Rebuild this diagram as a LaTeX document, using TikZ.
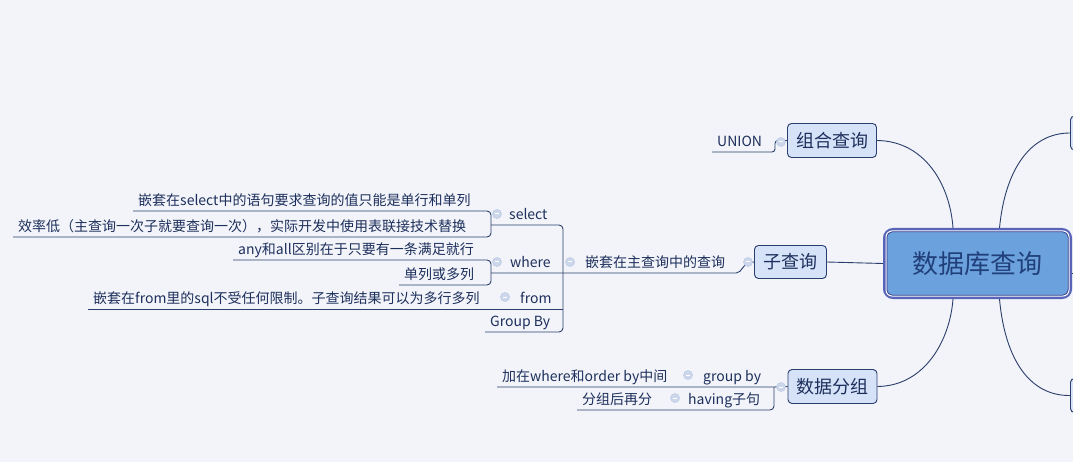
\documentclass[tikz,border=0pt]{standalone}
\usepackage{fontspec}
\setmainfont{Noto Sans CJK SC}
\definecolor{bg}{HTML}{F2F4F9}
\definecolor{ink}{HTML}{1D2F5C}
\definecolor{lnc}{HTML}{2B3E6B}
\definecolor{topicfill}{HTML}{D5E2F8}
\definecolor{topicdraw}{HTML}{2A3E6E}
\definecolor{rootfill}{HTML}{6BA1DD}
\definecolor{rootdraw}{HTML}{5864B8}
\definecolor{roottext}{HTML}{21407A}
\definecolor{cfill}{HTML}{CCD7EC}
\definecolor{cdraw}{HTML}{B9C7E2}
\tikzset{
  leaf/.style={anchor=south west, inner xsep=5pt, inner ysep=5.5pt, text height=10pt, text depth=0pt,
    text=ink, font=\fontsize{14pt}{16pt}\selectfont},
  ln/.style={draw=lnc, line width=0.9pt},
  topic/.style={draw=topicdraw, fill=topicfill, line width=0.9pt, rounded corners=4pt,
    text=ink, font=\fontsize{18pt}{20pt}\selectfont, inner sep=0pt},
  cmark/.style={circle, draw=cdraw, fill=cfill, line width=0.5pt, minimum size=9pt, inner sep=0pt,
    path picture={\draw[white, line width=1pt] ([xshift=-2.3pt]path picture bounding box.center) -- ([xshift=2.3pt]path picture bounding box.center);}},
}
\begin{document}
\begin{tikzpicture}[x=1pt, y=-1pt]
\useasboundingbox (0,0) rectangle (1073,462);
\fill[bg] (0,0) rectangle (1073,462);
\clip (0,0) rectangle (1073,462);

% bracket x positions
\coordinate (selX) at (491,0);
\coordinate (mainX) at (563,0);
\coordinate (gX) at (774,0);
\coordinate (uX) at (775,0);

% topics
\node[draw=rootdraw, fill=rootfill, line width=4pt, rounded corners=8pt, minimum width=185pt, minimum height=67pt,
      text=roottext, font=\fontsize{26pt}{28pt}\selectfont, inner sep=0pt] (root) at (977.5,263.5) {数据库查询};
\draw[white, line width=1pt, rounded corners=6pt] ([shift={(3,3)}]root.north west) rectangle ([shift={(-3,-3)}]root.south east);
\draw[draw=rootdraw!70!black, line width=0.5pt, rounded corners=5pt] ([shift={(4,4)}]root.north west) rectangle ([shift={(-4,-4)}]root.south east);
\node[topic, minimum width=89pt, minimum height=34pt] (zh) at (832,140.5) {组合查询};
\node[topic, minimum width=72pt, minimum height=33pt] (zqbox) at (790.5,262) {子查询};
\node[topic, minimum width=89pt, minimum height=34pt] (fz) at (832.5,386.5) {数据分组};
\node[topic, minimum width=60pt, minimum height=34pt, anchor=west] (rt) at (1070,133) {};
\node[topic, minimum width=60pt, minimum height=34pt, anchor=west] (rb) at (1070,395.5) {};
\coordinate (rightend) at (1080,273);

% leaves
\node[leaf] (union) at (712,152) {UNION};
\node[leaf] (s1) at (133,211) {嵌套在select中的语句要求查询的值只能是单行和单列};
\node[leaf] (s2) at (13,237) {效率低（主查询一次子就要查询一次），实际开发中使用表联接技术替换};
\node[leaf] (sel) at (504,225) {select};
\node[leaf] (w1) at (233,260) {any和all区别在于只要有一条满足就行};
\node[leaf] (w2) at (399,285) {单列或多列};
\node[leaf] (wh) at (505,273) {where};
\node[leaf] (f1) at (88,309) {嵌套在from里的sql不受任何限制。子查询结果可以为多行多列};
\node[leaf] (fr) at (515,309) {from};
\node[leaf] (gb) at (485,332) {Group By};
\node[leaf] (zq) at (580,273) {嵌套在主查询中的查询};
\node[leaf] (g1) at (497,387) {加在where和order by中间};
\node[leaf] (gby) at (698,387) {group by};
\node[leaf] (g2) at (577,410) {分组后再分};
\node[leaf] (hv) at (683,410) {having子句};

% connectors
\draw[ln, rounded corners=3pt] (union.south west) -- (union.south west -| uX) -- (uX |- zh.west) -- (zh.west);
\draw[ln, rounded corners=4pt] (s1.south west) -- (s1.south west -| selX) -- (s2.south west -| selX) -- (s2.south west);
\draw[ln, rounded corners=4pt] (selX |- sel.south) -- (mainX |- sel.south) -- (mainX |- gb.south) -- (gb.south west);
\draw[ln, rounded corners=4pt] (w1.south west) -- (w1.south west -| selX) -- (w2.south west -| selX) -- (w2.south west);
\draw[ln] (selX |- wh.south) -- ([xshift=6pt]zq.south east) .. controls ([xshift=12pt]zq.south east) and (742,262) .. (zqbox.west);
\draw[ln] (f1.south west) -- (mainX |- f1.south);
\draw[ln, rounded corners=4pt] (g2.south west) -- (gX |- g2.south) -- (gX |- g1.south);
\draw[ln] (g1.south west) -- (gX |- g1.south) -- (fz.west);
\draw[ln] (zqbox.east) -- (root.west);
\draw[ln] (zh.east) .. controls (925,141) and (950,185) .. ([xshift=-24.5pt]root.north);
\draw[ln] (fz.east) .. controls (925,386) and (950,340) .. ([xshift=-24.5pt]root.south);
\draw[ln] ([xshift=22pt]root.north) .. controls (1005,170) and (1030,133) .. (rt.west);
\draw[ln] ([xshift=22pt]root.south) .. controls (1005,360) and (1030,396) .. (rb.west);
\draw[ln] (root.east |- rightend) -- (rightend);

% collapse marks
\node[cmark] (c1) at (781,142) {};
\node[cmark] (c2) at (748,262) {};
\node[cmark] (c3) at (781,387) {};
\node[cmark] (c4) at (570,262) {};
\node[cmark] (c5) at (497,214) {};
\node[cmark] (c6) at (497,262) {};
\node[cmark] (c7) at (505,297) {};
\node[cmark] (c8) at (688,375) {};
\node[cmark] (c9) at (675,398) {};
\end{tikzpicture}
\end{document}
